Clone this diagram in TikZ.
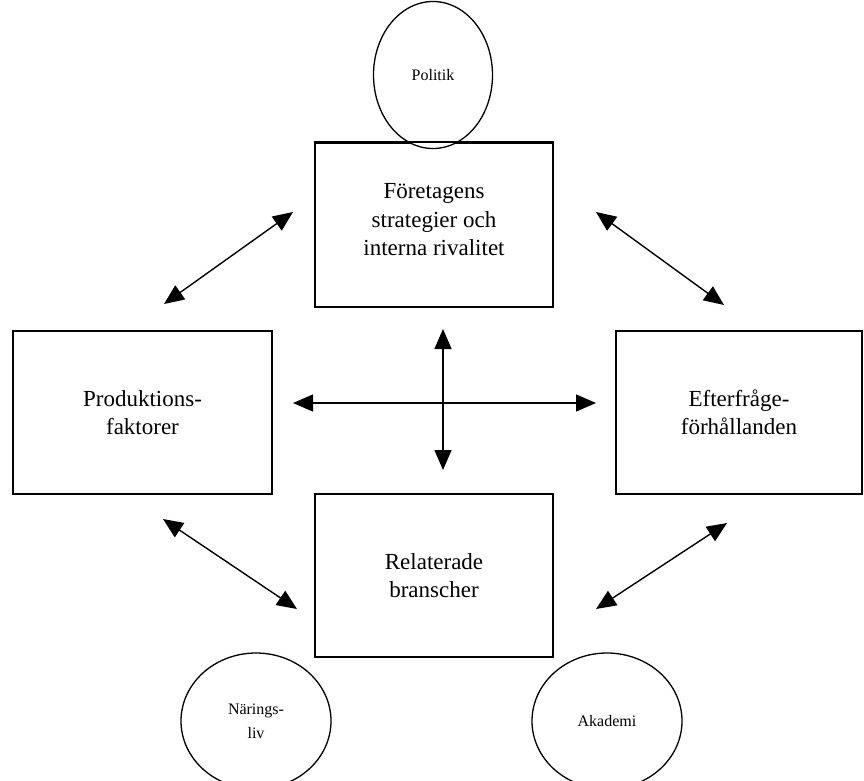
\documentclass[tikz,border=0pt]{standalone}
\usepackage{fontspec}
\setmainfont{Liberation Serif}
\usetikzlibrary{arrows.meta,shapes.geometric}
\begin{document}
\begin{tikzpicture}[x=1pt,y=-1pt,
  boxnode/.style={draw,line width=1.6pt,inner sep=0pt,align=center,
    font=\fontsize{23}{28.5}\selectfont},
  boxtext/.style={inner sep=0pt,align=center,font=\fontsize{23}{28.5}\selectfont},
  ringnode/.style={draw,ellipse,line width=1.3pt,inner sep=0pt,align=center,
    font=\fontsize{16}{24}\selectfont},
  twoway/.style={line width=1.4pt,{Triangle[length=20pt,width=17pt]}-{Triangle[length=20pt,width=17pt]}}]
\useasboundingbox (0,0) rectangle (864,780);
% boxes
\node[boxnode,minimum width=238pt,minimum height=164pt] (top) at (434,225) {};
\node[boxtext] (toptext) at (434,220) {Företagens\\strategier och\\interna rivalitet};
\node[boxnode,minimum width=259pt,minimum height=163pt] (left) at (142.5,412.5) {Produktions-\\faktorer};
\node[boxnode,minimum width=246pt,minimum height=163pt] (right) at (739,412.5) {Efterfråge-\\förhållanden};
\node[boxnode,minimum width=238pt,minimum height=163pt] (bottom) at (434,575.5) {Relaterade\\branscher};
% circles
\node[ringnode,fill=white,minimum width=119pt,minimum height=147pt] (pol) at (433,75) {Politik};
\draw[line width=1.6pt] (top.north west) -- (top.north east);
\node[ringnode,minimum width=150pt,minimum height=136pt] (nar) at (256,721) {Närings-\\liv};
\node[ringnode,minimum width=150pt,minimum height=136pt] (aka) at (607,721) {Akademi};
% arrow end points
\coordinate (a1) at (164,304);
\coordinate (a2) at (293,212);
\coordinate (b1) at (596,212);
\coordinate (b2) at (724,305);
\coordinate (c1) at (163,519);
\coordinate (c2) at (297,609);
\coordinate (d1) at (727,523);
\coordinate (d2) at (596,609);
\coordinate (h1) at (293,403);
\coordinate (h2) at (596,403);
\coordinate (v1) at (443,329);
\coordinate (v2) at (443,470);
\draw[twoway] (a1) -- (a2);
\draw[twoway] (b1) -- (b2);
\draw[twoway] (c1) -- (c2);
\draw[twoway] (d1) -- (d2);
\draw[twoway] (h1) -- (h2);
\draw[twoway] (v1) -- (v2);
\end{tikzpicture}
\end{document}
